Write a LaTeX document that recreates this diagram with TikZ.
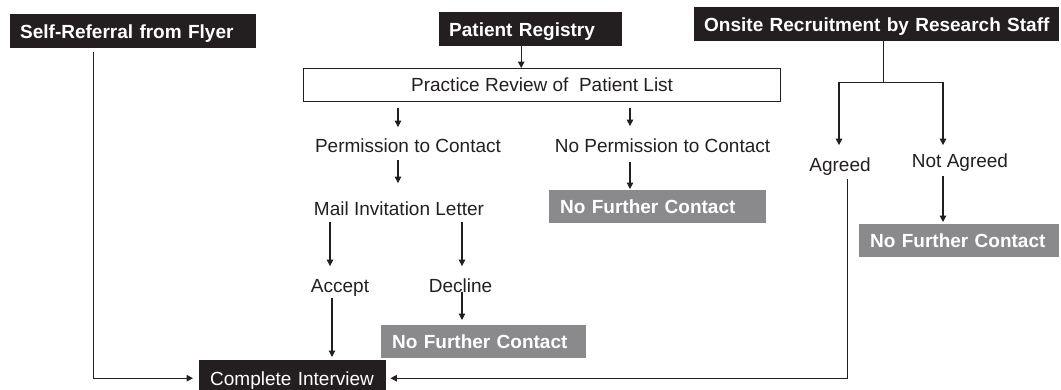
\documentclass[tikz,border=0pt]{standalone}
\usepackage{fontspec}
\setmainfont{Liberation Sans}
\usetikzlibrary{arrows.meta}
\definecolor{ink}{HTML}{231F20}
\definecolor{stone}{HTML}{8A8A8C}
\begin{document}
\begin{tikzpicture}[x=1pt,y=-1pt,
  every node/.style={font=\fontsize{19}{22}\selectfont, text=ink, text height=13.7pt, text depth=0pt},
  blackbox/.style={fill=ink, text=white, font=\fontsize{19}{22}\selectfont\bfseries,
    anchor=north west, inner xsep=10pt, inner ysep=0pt, align=left},
  greybox/.style={fill=stone, text=white, font=\fontsize{19}{22}\selectfont\bfseries,
    anchor=north west, inner xsep=11pt, inner ysep=0pt, align=left},
  label/.style={anchor=base, inner sep=0pt},
  line/.style={draw=ink, line width=1.2pt},
  arr/.style={line, -{Triangle[length=6.5pt,width=6.5pt]}}]
\useasboundingbox (0,0) rectangle (1061,389);

% sources
\node[blackbox, text width=226pt, minimum height=34pt] (selfref) at (10,14) {Self-Referral from Flyer};
\node[blackbox, text width=163pt, minimum height=34pt] (registry) at (439,12) {Patient Registry};
\node[blackbox, text width=345pt, minimum height=34pt] (onsite) at (694,7)
  {\makebox[345pt][l]{Onsite Recruitment by Research Staff}};

% registry pathway
\node[draw=ink, line width=1.2pt, fill=white, anchor=north west, minimum width=477pt,
  minimum height=33pt, inner sep=0pt] (practice) at (303,68) {Practice Review of\ \ Patient List};
\node[label] (perm) at (408,152) {Permission to Contact};
\node[label] (noperm) at (662.5,152) {No Permission to Contact};
\node[label] (mail) at (399,215) {Mail Invitation Letter};
\node[label] (accept) at (340,292) {Accept};
\node[label] (decline) at (460.5,292) {Decline};
\node[greybox, text width=195pt, minimum height=33pt] (nfcA) at (549,190) {No Further Contact};
\node[greybox, text width=183pt, minimum height=33pt] (nfcB) at (381,325) {No Further Contact};

% onsite pathway
\node[label] (agreed) at (840,171.8) {Agreed};
\node[label] (notagreed) at (960,167.6) {Not Agreed};
\node[greybox, text width=178pt, minimum height=33pt] (nfcC) at (859,224) {No Further Contact};

% outcome
\node[blackbox, font=\fontsize{19}{22}\selectfont, inner xsep=11pt, text width=165pt, minimum height=36pt] (complete) at (199,360) {Complete Interview};

% connectors
\draw[arr, shorten <=4pt, shorten >=6pt] ([xshift=-40pt]selfref.south) |- (complete.west);

\coordinate (r1) at ([xshift=-9.5pt]registry.south);
\draw[arr] (r1) -- (r1 |- practice.north);

\coordinate (p1) at ([xshift=-10pt]perm.north);
\draw[arr, shorten <=6pt, shorten >=11pt] (p1 |- practice.south) -- (p1);
\coordinate (p2) at ([xshift=-32.5pt]noperm.north);
\draw[arr, shorten <=6pt, shorten >=12pt] (p2 |- practice.south) -- (p2);

\coordinate (m1) at ([xshift=-10pt]perm.south);
\draw[arr, shorten <=8pt, shorten >=18pt] (m1) -- (m1 |- mail.north);
\coordinate (n1) at ([xshift=-32.5pt]noperm.south);
\draw[arr, shorten <=10pt, shorten >=1pt] (n1) -- (n1 |- nfcA.north);

\coordinate (a1) at ([xshift=-10pt]accept.north);
\draw[arr, shorten <=7pt, shorten >=12pt] (a1 |- mail.south) -- (a1);
\coordinate (d1) at ([xshift=1.5pt]decline.north);
\draw[arr, shorten <=7pt, shorten >=12pt] (d1 |- mail.south) -- (d1);

\coordinate (a2) at ([xshift=-8pt]accept.south);
\draw[arr, shorten <=6pt, shorten >=3pt] (a2) -- (a2 |- complete.north);
\coordinate (d2) at ([xshift=1.5pt]decline.south);
\draw[arr, shorten >=5pt] (d2) -- (d2 |- nfcB.north);

\coordinate (o1) at ([xshift=6.5pt]onsite.south);
\draw[line] (o1) -- ++(0,41) coordinate (fork);
\draw[arr, shorten >=12.8pt] (fork) -| ([xshift=-1pt]agreed.north);
\draw[arr, shorten >=8.6pt] (fork) -| ([xshift=-17pt]notagreed.north);

\coordinate (g1) at ([xshift=-17pt]notagreed.south);
\draw[arr, shorten <=8.4pt, shorten >=2pt] (g1) -- (g1 |- nfcC.north);
\draw[arr, shorten <=7pt, shorten >=4pt] ([xshift=7.5pt]agreed.south) |- (complete.east);
\end{tikzpicture}
\end{document}
